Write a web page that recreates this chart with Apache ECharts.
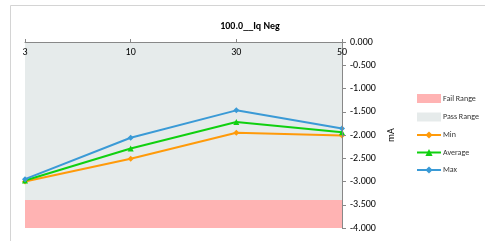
<!DOCTYPE html>
<html>
<head>
<meta charset="utf-8">
<script src="https://cdn.jsdelivr.net/npm/echarts@6/dist/echarts.min.js"></script>
<style>
  html, body { margin: 0; padding: 0; background: #fff; }
  #chart { width: 485px; height: 241px; }
</style>
</head>
<body>
<div id="chart"></div>
<script>
// categories and values
const categories = ['3', '10', '30', '50']
const minValues = [-3.00, -2.51, -1.95, -2.01]
const avgValues = [-2.98, -2.29, -1.72, -1.94]
const maxValues = [-2.95, -2.06, -1.47, -1.86]
const passRange = [0, -3.4]
const failRange = [-3.4, -4]

const chart = echarts.init(document.getElementById('chart'))
const font = 'Calibri, "Liberation Sans", "DejaVu Sans", sans-serif'

function lineSeries (name, data, color, symbol) {
  return {
    name: name,
    type: 'line',
    data: data,
    symbol: symbol,
    symbolSize: 6,
    lineStyle: { color: color, width: 2 },
    itemStyle: { color: color },
    z: 5
  }
}

chart.setOption({
  animation: false,
  textStyle: { fontFamily: font },
  title: {
    text: '100.0__Iq Neg',
    left: 245,
    textAlign: 'center',
    top: 16,
    textStyle: { fontSize: 10, fontWeight: 'bold', color: '#000', fontFamily: font }
  },
  graphic: [{
    type: 'rect',
    shape: { x: 10.5, y: 5.5, width: 520, height: 300 },
    style: { fill: 'none', stroke: '#d4d4d4', lineWidth: 1 },
    silent: true
  }],
  legend: {
    orient: 'vertical',
    left: 416,
    top: 94,
    padding: 0,
    itemGap: 9.5,
    itemWidth: 24,
    itemHeight: 9,
    textStyle: { fontSize: 8, color: '#333', fontFamily: font, padding: [0, 0, 0, -3] },
    data: [
      { name: 'Fail Range', icon: 'rect' },
      { name: 'Pass Range', icon: 'rect' },
      'Min', 'Average', 'Max'
    ]
  },
  grid: { left: 25, right: 143, top: 42, bottom: 13 },
  xAxis: {
    type: 'category',
    data: categories,
    position: 'top',
    boundaryGap: false,
    z: 10,
    axisLine: { lineStyle: { color: '#888' } },
    axisTick: { alignWithLabel: true, length: 3, lineStyle: { color: '#888' } },
    axisLabel: { inside: true, margin: 5, fontSize: 10, color: '#000', fontFamily: font }
  },
  yAxis: {
    type: 'value',
    position: 'right',
    min: -4,
    max: 0,
    interval: 0.5,
    z: 10,
    name: 'mA',
    nameLocation: 'middle',
    nameGap: 42,
    nameRotate: 90,
    nameTextStyle: { fontSize: 10, color: '#000', fontFamily: font },
    axisLine: { show: true, lineStyle: { color: '#888' } },
    axisTick: { show: true, length: 4, lineStyle: { color: '#888' } },
    splitLine: { show: false },
    axisLabel: {
      margin: 8,
      fontSize: 10,
      color: '#000',
      fontFamily: font,
      formatter: v => v.toFixed(3)
    }
  },
  series: [
    {
      name: 'Fail Range',
      type: 'line',
      data: [],
      itemStyle: { color: '#ffb3b3' },
      markArea: {
        silent: true,
        itemStyle: { color: '#ffb3b3' },
        data: [[{ yAxis: failRange[0] }, { yAxis: failRange[1] }]]
      }
    },
    {
      name: 'Pass Range',
      type: 'line',
      data: [],
      itemStyle: { color: '#e6ebeb' },
      markArea: {
        silent: true,
        itemStyle: { color: '#e6ebeb' },
        data: [[{ yAxis: passRange[0] }, { yAxis: passRange[1] }]]
      }
    },
    lineSeries('Min', minValues, '#ff9a0a', 'diamond'),
    lineSeries('Average', avgValues, '#10d010', 'triangle'),
    lineSeries('Max', maxValues, '#3a9ad6', 'diamond')
  ]
})
</script>
</body>
</html>
